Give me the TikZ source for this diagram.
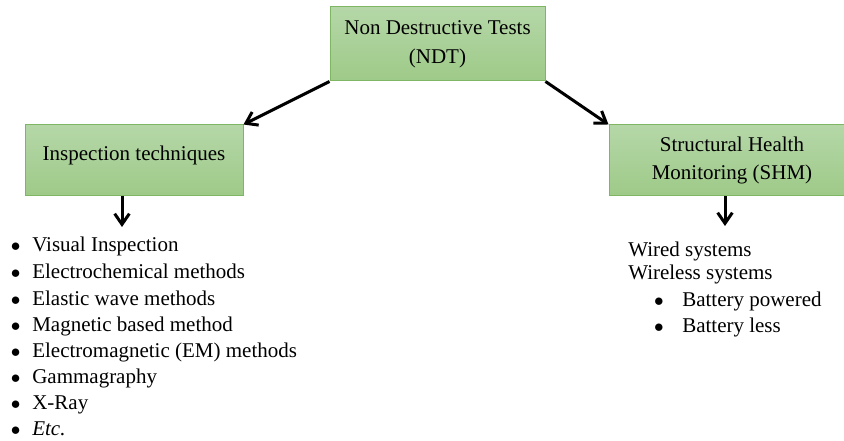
\documentclass[tikz,border=0pt]{standalone}
\usepackage{fontspec}
\setmainfont{Liberation Serif}
\usetikzlibrary{arrows.meta}
\definecolor{boxtop}{HTML}{B5D7A8}
\definecolor{boxbottom}{HTML}{9ECA88}
\definecolor{boxline}{HTML}{7EB663}
\newcommand{\itembullet}[1]{\llap{$\bullet$\hspace{#1}}}
\tikzset{
  testbox/.style={draw=boxline, line width=0.75pt, top color=boxtop, bottom color=boxbottom,
    align=center, inner sep=0pt, font=\fontsize{15.75}{22}\selectfont},
  listtext/.style={anchor=base west, inner sep=0pt, font=\fontsize{15.75}{19}\selectfont},
  bigarrow/.style={line width=2.25pt, -{Straight Barb[length=8pt,width=11pt]}}
}
\begin{document}
\begin{tikzpicture}[x=0.75pt, y=-0.75pt]
	    \useasboundingbox (0,0) rectangle (844,441);
	    \clip (0,0) rectangle (844,441);
	    % boxes
	    \node[testbox, minimum width=161.25pt, minimum height=55.5pt] (ndt) at (437.5,44) {Non Destructive Tests\\(NDT)};
	    \node[testbox, minimum width=163.5pt, minimum height=53.25pt, text depth=11pt] (insp) at (134,160.5) {Inspection techniques};
	    \node[testbox, minimum width=184.5pt, minimum height=53.25pt, font=\fontsize{15.75}{21}\selectfont] (shm) at (732,160.5) {Structural Health\\Monitoring (SHM)};
	    \coordinate (inspend) at (122,227);
	    \coordinate (shmend) at (725,226);
	    \draw[bigarrow] (ndt.south west) -- (insp.north east);
	    \draw[bigarrow] (ndt.south east) -- (shm.north west);
	    \draw[bigarrow] (insp.south -| inspend) -- (inspend);
	    \draw[bigarrow] (shm.south -| shmend) -- (shmend);
	    % inspection list
	    \node[listtext] (visual) at (32,252) {\itembullet{8.8pt}Visual Inspection};
	    \node[listtext] (electrochem) at (32,279) {\itembullet{8.8pt}Electrochemical methods};
	    \node[listtext] (elastic) at (32,306) {\itembullet{8.8pt}Elastic wave methods};
	    \node[listtext] (magnetic) at (32,332) {\itembullet{8.8pt}Magnetic based method};
	    \node[listtext] (em) at (32,358) {\itembullet{8.8pt}Electromagnetic (EM) methods};
	    \node[listtext] (gamma) at (32,384) {\itembullet{8.8pt}Gammagraphy};
	    \node[listtext] (xray) at (32,410) {\itembullet{8.8pt}X-Ray};
	    \node[listtext] (etc) at (32,436) {\itembullet{8.8pt}\textit{Etc.}};
	    % shm list
	    \node[listtext] (wired) at (628,257) {Wired systems};
	    \node[listtext] (wireless) at (628,280) {Wireless systems};
	    \node[listtext] (powered) at (682,307) {\itembullet{14pt}Battery powered};
	    \node[listtext] (less) at (682,333) {\itembullet{14pt}Battery less};
\end{tikzpicture}
\end{document}
